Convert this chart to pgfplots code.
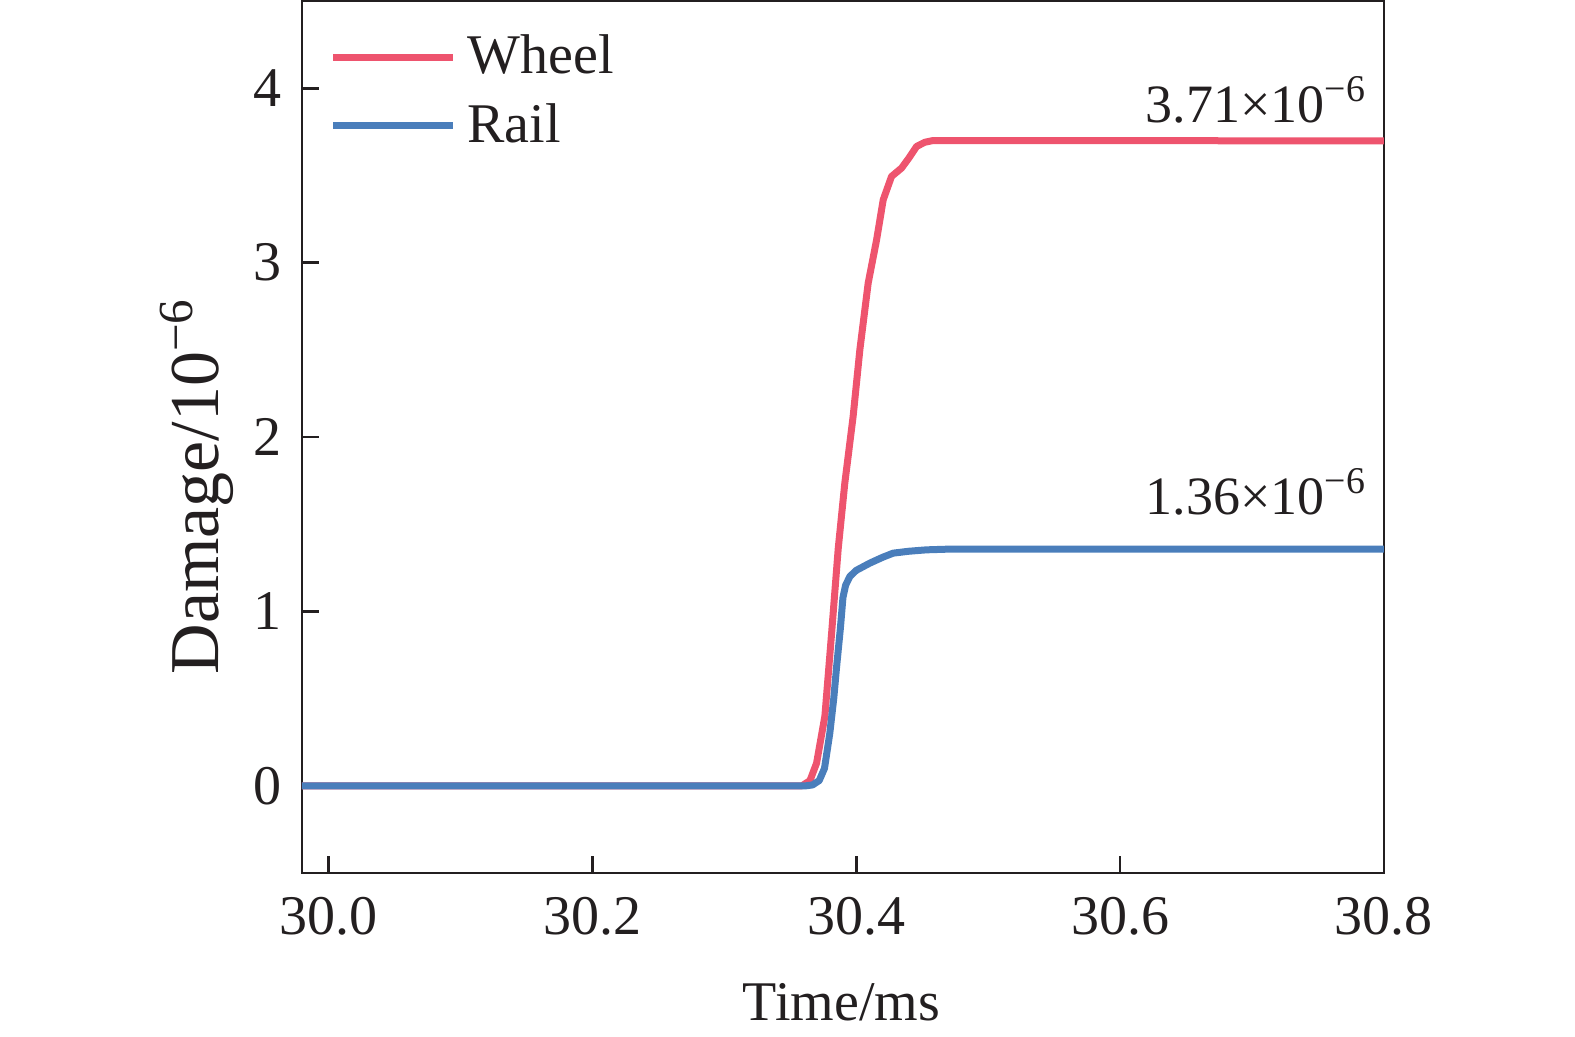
\documentclass[border=0pt]{standalone}
\usepackage{fontspec}
\setmainfont{Liberation Serif}
\usepackage{pgfplots}
\pgfplotsset{compat=1.18}
\definecolor{wheelred}{RGB}{238,84,110}
\definecolor{railblue}{RGB}{74,126,187}
\definecolor{axisdark}{RGB}{35,31,32}
\begin{document}
\begin{tikzpicture}
\path[use as bounding box] (-75.5pt,-41pt) rectangle (318.25pt,218.25pt);
\begin{axis}[
  scale only axis, width=270.5pt, height=218pt,
  xmin=29.98, xmax=30.8, ymin=-0.5, ymax=4.5,
  xtick={30.0,30.2,30.4,30.6,30.8}, ytick={0,1,2,3,4},
  tick align=inside, xtick pos=bottom, ytick pos=left,
  major tick length=4.2pt,
  axis line style={axisdark, line width=0.7pt},
  every tick/.style={axisdark, line width=0.7pt},
  /pgf/number format/assume math mode=true,
  ticklabel style={font=\fontsize{14}{16}\selectfont, text=axisdark},
  xticklabel style={/pgf/number format/fixed, /pgf/number format/fixed zerofill, /pgf/number format/precision=1, yshift=-2.5pt},
  yticklabel style={xshift=-1.6pt},
  xlabel={Time/ms},
  ylabel={Damage/10\textsuperscript{−6}},
  xlabel style={at={(axis description cs:0.4986,-0.1686)}, anchor=base, font=\fontsize{14}{16}\selectfont, text=axisdark},
  ylabel style={at={(axis description cs:-0.0776,0.4438)}, anchor=base, font=\fontsize{17.5}{20}\selectfont, text=axisdark},
  legend style={at={(axis description cs:0.0249,0.9622)}, anchor=north west, draw=none, fill=none, inner sep=0pt, row sep=5.95pt, column sep=2.7pt, font=\fontsize{14}{16}\selectfont, text=axisdark, nodes={inner sep=0pt}},
  legend cell align=left,
  legend image code/.code={\draw[#1] (0pt,0pt) -- (30pt,0pt);},
]
\addplot[wheelred, line width=1.75pt, line join=round] coordinates {
(29.98,0) (30.359,0) (30.365,0.03) (30.370,0.13) (30.3763,0.40) (30.3814,0.876)
(30.3864,1.36) (30.3914,1.736) (30.3977,2.118) (30.4028,2.50) (30.4091,2.882)
(30.4155,3.131) (30.4205,3.36) (30.4268,3.494) (30.4344,3.542) (30.440,3.60)
(30.4458,3.666) (30.452,3.69) (30.4583,3.70) (30.8,3.698)
};
\addlegendentry{Wheel}
\addplot[railblue, line width=1.75pt, line join=round] coordinates {
(29.98,0) (30.362,0) (30.367,0.005) (30.372,0.03) (30.376,0.10) (30.380,0.30)
(30.383,0.50) (30.3852,0.684) (30.388,0.90) (30.390,1.08) (30.392,1.15)
(30.3952,1.20) (30.400,1.235) (30.4104,1.277) (30.420,1.31) (30.428,1.334)
(30.440,1.345) (30.4533,1.353) (30.47,1.357) (30.8,1.357)
};
\addlegendentry{Rail}
\node[anchor=base east, inner sep=0pt, font=\fontsize{13.5}{15}\selectfont, text=axisdark, xshift=-4pt, yshift=4.5pt] at (axis cs:30.8,3.698) {3.71×10\textsuperscript{−6}};
\node[anchor=base east, inner sep=0pt, font=\fontsize{13.5}{15}\selectfont, text=axisdark, xshift=-4pt, yshift=8.6pt] at (axis cs:30.8,1.357) {1.36×10\textsuperscript{−6}};
\end{axis}
\end{tikzpicture}
\end{document}
